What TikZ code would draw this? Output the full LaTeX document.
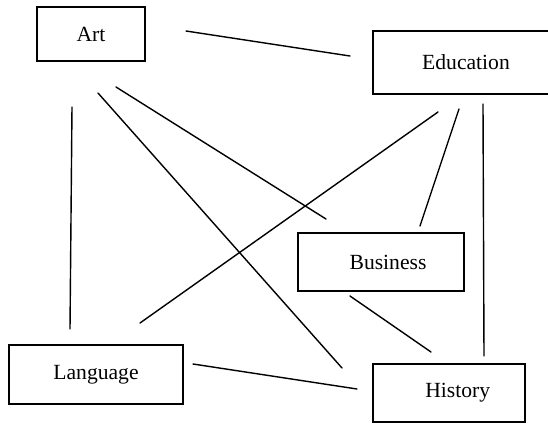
\documentclass[tikz,border=0pt]{standalone}
\usepackage{fontspec}
\setmainfont{Liberation Serif}
\begin{document}
\begin{tikzpicture}[x=0.02cm,y=-0.02cm,line cap=round,
  topic/.style={draw,line width=0.9pt,inner sep=0pt,font=\fontsize{12.3}{14}\selectfont},
  link/.style={line width=0.8pt}]
  \clip (0,0) rectangle (548,423);
  \node[topic,minimum width=2.16cm,minimum height=1.08cm] (art) at (91,34) {Art};
  \node[topic,minimum width=3.72cm,minimum height=1.26cm] (edu) at (466,62.5) {Education};
  \node[topic,minimum width=3.32cm,minimum height=1.16cm] (bus) at (381,262) {\hspace{8pt}Business};
  \node[topic,minimum width=3.48cm,minimum height=1.18cm] (lang) at (96,374.5) {Language};
  \node[topic,minimum width=3.04cm,minimum height=1.16cm] (hist) at (449,393) {\hspace{10pt}History};
  \coordinate (art-edu) at (186,31);   \coordinate (edu-art) at (350,56);
  \coordinate (art-lang) at (72,107);  \coordinate (lang-art) at (70,329);
  \coordinate (art-bus) at (116,87);   \coordinate (bus-art) at (326,219);
  \coordinate (art-hist) at (98,93);   \coordinate (hist-art) at (342,368);
  \coordinate (edu-lang) at (438,112); \coordinate (lang-edu) at (140,323);
  \coordinate (edu-bus) at (459,109);  \coordinate (bus-edu) at (420,226);
  \coordinate (edu-hist) at (483,104); \coordinate (hist-edu) at (484,356);
  \coordinate (bus-hist) at (350,296); \coordinate (hist-bus) at (431,352);
  \coordinate (lang-hist) at (193,364);\coordinate (hist-lang) at (357,389);
  \draw[link] (art-edu) -- (edu-art);
  \draw[link] (art-lang) -- (lang-art);
  \draw[link] (art-bus) -- (bus-art);
  \draw[link] (art-hist) -- (hist-art);
  \draw[link] (edu-lang) -- (lang-edu);
  \draw[link] (edu-bus) -- (bus-edu);
  \draw[link] (edu-hist) -- (hist-edu);
  \draw[link] (bus-hist) -- (hist-bus);
  \draw[link] (lang-hist) -- (hist-lang);
\end{tikzpicture}
\end{document}
